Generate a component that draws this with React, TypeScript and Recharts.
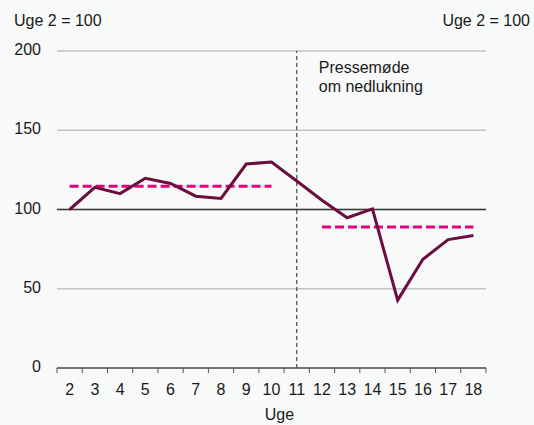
import React from 'react';
import {
  ComposedChart,
  Line,
  XAxis,
  YAxis,
  CartesianGrid,
  ReferenceLine,
} from 'recharts';

const weeks = ['2', '3', '4', '5', '6', '7', '8', '9', '10', '11', '12', '13', '14', '15', '16', '17', '18'];
const indexValues = [100, 114, 110, 119.7, 116.4, 108.4, 107, 128.7, 130, 118, 105.8, 94.8, 100.4, 42.8, 68.6, 81, 83.6];
const avgBefore = [114.7, 114.7, 114.7, 114.7, 114.7, 114.7, 114.7, 114.7, 114.7, null, null, null, null, null, null, null, null];
const avgAfter = [null, null, null, null, null, null, null, null, null, null, 89, 89, 89, 89, 89, 89, 89];
const yTicks = [0, 50, 100, 150, 200];
const unitLabel = 'Uge 2 = 100';
const xTitle = 'Uge';
const eventWeek = '11';
const eventLines = ['Pressemøde', 'om nedlukning'];

const data = weeks.map((w, i) => ({
  week: w,
  value: indexValues[i],
  before: avgBefore[i],
  after: avgAfter[i],
}));

const W = 534;
const H = 425;
const LEFT_W = 57;
const RIGHT_W = 48;
const TOP = 51;
const XAXIS_H = 57;
const AXIS_Y = H - XAXIS_H;
const FONT = 'Arial, "Liberation Sans", Helvetica, sans-serif';
const TEXT = '#1a1a1a';
const BG = '#f8f9f9';
const plotLeft = LEFT_W;
const plotRight = W - RIGHT_W;
const bw = (plotRight - plotLeft) / weeks.length;

const XTick = (props: any) => {
  const { x, payload, index } = props;
  const y = AXIS_Y;
  return (
    <g>
      <line x1={x - bw / 2} x2={x - bw / 2} y1={y} y2={y + 5} stroke="#555" strokeWidth={1} />
      {index === weeks.length - 1 && (
        <line x1={x + bw / 2} x2={x + bw / 2} y1={y} y2={y + 5} stroke="#555" strokeWidth={1} />
      )}
      <text x={x} y={y + 27} textAnchor="middle" fontFamily={FONT} fontSize={16} fill={TEXT}>
        {payload.value}
      </text>
    </g>
  );
};

const LeftTick = (props: any) => {
  const { y, payload } = props;
  return (
    <text x={41} y={y + 4} textAnchor="end" fontFamily={FONT} fontSize={16} fill={TEXT}>
      {payload.value}
    </text>
  );
};

const RightTick = (props: any) => {
  const { y, payload } = props;
  return (
    <text x={502} y={y + 4} textAnchor="start" fontFamily={FONT} fontSize={16} fill={TEXT}>
      {payload.value}
    </text>
  );
};

const EventLabel = (props: any) => {
  const vb = props.viewBox || {};
  const x = (vb.x ?? 0) + 22;
  const y = vb.y ?? TOP;
  return (
    <text fontFamily={FONT} fontSize={16} fill={TEXT}>
      <tspan x={x} y={y + 22}>{eventLines[0]}</tspan>
      <tspan x={x} y={y + 41}>{eventLines[1]}</tspan>
    </text>
  );
};

const XTitle = (props: any) => {
  const vb = props.viewBox || {};
  const cx = (vb.x ?? 0) + (vb.width ?? 0) / 2 + 8;
  return (
    <text x={cx} y={420} textAnchor="middle" fontFamily={FONT} fontSize={16} fill={TEXT}>
      {xTitle}
    </text>
  );
};

export default function App() {
  return (
    <div style={{ position: 'absolute', left: 0, top: 0, width: W, height: H, background: BG }}>
      <ComposedChart
        width={W}
        height={H}
        data={data}
        margin={{ top: TOP, right: 0, bottom: 0, left: 0 }}
      >
        <CartesianGrid yAxisId="left" vertical={false} stroke="#c2c2c2" strokeWidth={1.3} />
        <XAxis
          dataKey="week"
          height={XAXIS_H}
          padding={{ left: bw / 2, right: bw / 2 }}
          axisLine={{ stroke: '#555', strokeWidth: 1.3 }}
          tickLine={false}
          tick={<XTick />}
          interval={0}
          label={<XTitle />}
        />
        <YAxis
          yAxisId="left"
          orientation="left"
          width={LEFT_W}
          domain={[0, 200]}
          ticks={yTicks}
          axisLine={false}
          tickLine={false}
          tick={<LeftTick />}
        />
        <YAxis
          yAxisId="right"
          orientation="right"
          width={RIGHT_W}
          domain={[0, 200]}
          ticks={yTicks}
          axisLine={false}
          tickLine={false}
          tick={<RightTick />}
        />
        <ReferenceLine yAxisId="left" y={100} stroke="#3a3a3a" strokeWidth={1.3} />
        <ReferenceLine
          yAxisId="left"
          x={eventWeek}
          stroke="#555"
          strokeWidth={1.3}
          strokeDasharray="4 3"
          label={<EventLabel />}
        />
        <Line
          yAxisId="left"
          dataKey="before"
          stroke="#e5007d"
          strokeWidth={3}
          strokeDasharray="9 4"
          dot={false}
          activeDot={false}
          isAnimationActive={false}
          connectNulls={false}
        />
        <Line
          yAxisId="left"
          dataKey="after"
          stroke="#e5007d"
          strokeWidth={3}
          strokeDasharray="9 4"
          dot={false}
          activeDot={false}
          isAnimationActive={false}
          connectNulls={false}
        />
        <Line
          yAxisId="left"
          dataKey="value"
          stroke="#6b0d3e"
          strokeWidth={3}
          dot={false}
          activeDot={false}
          isAnimationActive={false}
        />
      </ComposedChart>
      <svg
        width={W}
        height={H}
        style={{ position: 'absolute', left: 0, top: 0, pointerEvents: 'none' }}
      >
        <text x={14} y={26} fontFamily={FONT} fontSize={16} fill={TEXT}>
          {unitLabel}
        </text>
        <text x={530} y={26} textAnchor="end" fontFamily={FONT} fontSize={16} fill={TEXT}>
          {unitLabel}
        </text>
      </svg>
    </div>
  );
}
